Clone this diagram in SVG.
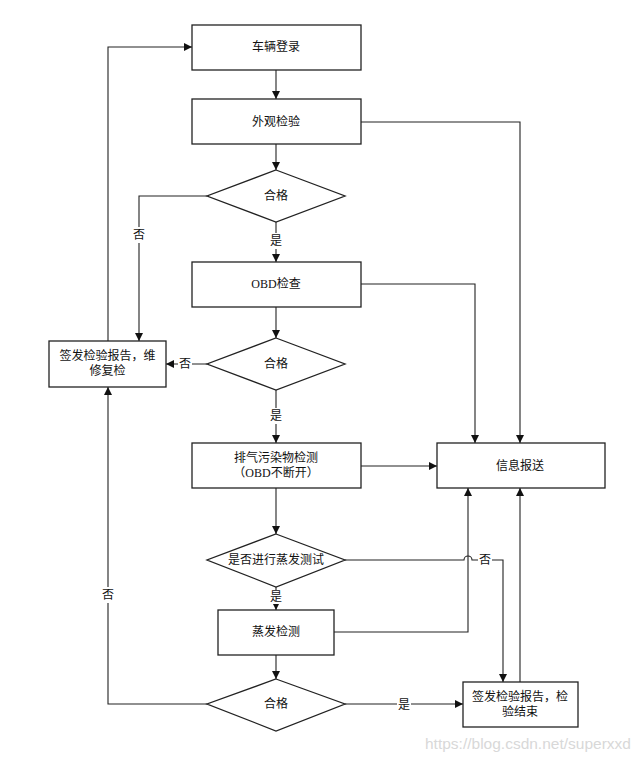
<svg xmlns="http://www.w3.org/2000/svg" width="642" height="761" viewBox="0 0 642 761">
<defs>
<marker id="ah" markerWidth="8" markerHeight="8" refX="8" refY="4" orient="auto" markerUnits="userSpaceOnUse">
<path d="M0,0 L8,4 L0,8 Z" fill="#111"/>
</marker>
<style>
.box{fill:#fff;stroke:#222;stroke-width:1.3}
.t{font-family:"Liberation Serif","Noto Sans CJK SC",serif;font-size:12px;fill:#111;text-anchor:middle;dominant-baseline:central}
.c{fill:none;stroke:#222;stroke-width:1.1}
.lb{fill:#fff}
.wm{font-family:"Liberation Sans",Arial,sans-serif;font-size:15.5px;fill:#d8d8d8}
</style>
</defs>
<rect width="642" height="761" fill="#fff"/>
<g id="connectors">
<path class="c" d="M276,70 V99" marker-end="url(#ah)"/>
<path class="c" d="M276,144 V170" marker-end="url(#ah)"/>
<path class="c" d="M276,222 V262" marker-end="url(#ah)"/>
<path class="c" d="M276,307 V338" marker-end="url(#ah)"/>
<path class="c" d="M276,390 V443" marker-end="url(#ah)"/>
<path class="c" d="M276,488 V534" marker-end="url(#ah)"/>
<path class="c" d="M276,587 V610" marker-end="url(#ah)"/>
<path class="c" d="M276,655 V679" marker-end="url(#ah)"/>
<path class="c" d="M207,196 H139 V341" marker-end="url(#ah)"/>
<path class="c" d="M207,364 H166" marker-end="url(#ah)"/>
<path class="c" d="M108,341 V47 H192" marker-end="url(#ah)"/>
<path class="c" d="M207,704 H108 V387" marker-end="url(#ah)"/>
<path class="c" d="M361,122 H520 V443" marker-end="url(#ah)"/>
<path class="c" d="M361,284 H475 V443" marker-end="url(#ah)"/>
<path class="c" d="M361,466 H437" marker-end="url(#ah)"/>
<path class="c" d="M334,632 H468 V488" marker-end="url(#ah)"/>
<path class="c" d="M345,560 H464 A4,4 0 0 1 472,560 H503 V682" marker-end="url(#ah)"/>
<path class="c" d="M520,682 V488" marker-end="url(#ah)"/>
<path class="c" d="M345,704 H463" marker-end="url(#ah)"/>
<rect class="lb" x="132" y="227" width="14" height="16"/>
<text class="t" x="139" y="235">否</text>
<rect class="lb" x="269" y="233" width="14" height="16"/>
<text class="t" x="276" y="241">是</text>
<rect class="lb" x="178" y="356" width="14" height="16"/>
<text class="t" x="185" y="364">否</text>
<rect class="lb" x="269" y="408" width="14" height="16"/>
<text class="t" x="276" y="416">是</text>
<rect class="lb" x="269" y="590" width="14" height="14"/>
<text class="t" x="276" y="597">是</text>
<rect class="lb" x="101" y="587" width="14" height="16"/>
<text class="t" x="108" y="595">否</text>
<rect class="lb" x="478" y="552" width="14" height="16"/>
<text class="t" x="485" y="560">否</text>
<rect class="lb" x="397" y="697" width="14" height="16"/>
<text class="t" x="404" y="705">是</text>
</g>
<g id="n1"><rect class="box" x="192" y="25" width="169" height="45"/><text class="t" x="276" y="47">车辆登录</text></g>
<g id="n2"><rect class="box" x="192" y="99" width="169" height="45"/><text class="t" x="276" y="122">外观检验</text></g>
<g id="d1"><polygon class="box" points="276,170 345,196 276,222 207,196"/><text class="t" x="276" y="196">合格</text></g>
<g id="n3"><rect class="box" x="192" y="262" width="169" height="45"/><text class="t" x="276" y="284">OBD检查</text></g>
<g id="d2"><polygon class="box" points="276,338 345,364 276,390 207,364"/><text class="t" x="276" y="364">合格</text></g>
<g id="n4"><rect class="box" x="49" y="341" width="117" height="46"/><text class="t" x="107.5" y="356">签发检验报告，维</text><text class="t" x="107.5" y="371">修复检</text></g>
<g id="n5"><rect class="box" x="192" y="443" width="169" height="45"/><text class="t" x="276" y="458">排气污染物检测</text><text class="t" x="276" y="473">（OBD不断开）</text></g>
<g id="n6"><rect class="box" x="437" y="443" width="168" height="45"/><text class="t" x="520" y="466">信息报送</text></g>
<g id="d3"><polygon class="box" points="276,534 345,560 276,587 207,560"/><text class="t" x="276" y="560">是否进行蒸发测试</text></g>
<g id="n7"><rect class="box" x="218" y="610" width="116" height="45"/><text class="t" x="276" y="632">蒸发检测</text></g>
<g id="d4"><polygon class="box" points="276,679 345,704 276,731 207,704"/><text class="t" x="276" y="704">合格</text></g>
<g id="n8"><rect class="box" x="463" y="682" width="115" height="45"/><text class="t" x="520" y="697">签发检验报告，检</text><text class="t" x="520" y="712">验结束</text></g>
<text class="wm" x="425" y="749">https://blog.csdn.net/superxxd</text>
</svg>
